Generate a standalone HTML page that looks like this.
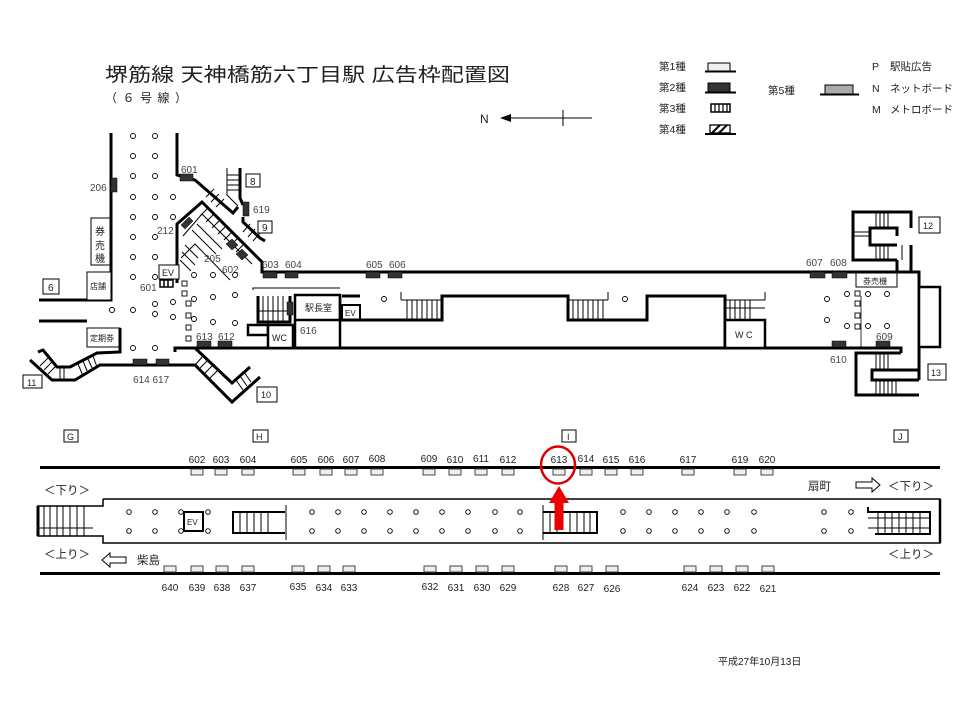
<!DOCTYPE html>
<html><head><meta charset="utf-8"><style>
html,body{margin:0;padding:0;background:#fff}
svg{display:block}
text{font-family:"Liberation Sans","Noto Sans CJK JP",sans-serif;fill:#222}
.n{font-size:10px;fill:#444}
.w{fill:none;stroke:#000;stroke-width:3}
.t{fill:none;stroke:#000;stroke-width:1}
.c{fill:#fff;stroke:#000;stroke-width:0.9}
.d{fill:#333;stroke:#000;stroke-width:0.5}
.l{fill:#eee;stroke:#333;stroke-width:0.9}
.b{fill:#fff;stroke:#000;stroke-width:1}
</style></head><body>
<svg width="960" height="720" viewBox="0 0 960 720" xmlns="http://www.w3.org/2000/svg">
<rect width="960" height="720" fill="#fff"/>
<!-- title -->
<text x="105" y="81" font-size="19" textLength="405" lengthAdjust="spacingAndGlyphs">堺筋線  天神橋筋六丁目駅  広告枠配置図</text>
<text x="105" y="102" font-size="12" textLength="82" lengthAdjust="spacing">（ ６ 号 線 ）</text>
<!-- north arrow -->
<text x="480" y="123" font-size="12">N</text>
<line x1="504" y1="118" x2="592" y2="118" stroke="#000" stroke-width="1"/>
<polygon points="500,118 511,114 511,122" fill="#000"/>
<line x1="563" y1="110" x2="563" y2="126" stroke="#000" stroke-width="1"/>
<!-- legend -->
<g font-size="10.5">
<text x="659" y="70">第1種</text><text x="659" y="91">第2種</text><text x="659" y="112">第3種</text><text x="659" y="133">第4種</text>
<text x="768" y="94">第5種</text>
<text x="872" y="70">P</text><text x="890" y="70">駅貼広告</text>
<text x="872" y="92">N</text><text x="890" y="92">ネットボード</text>
<text x="872" y="113">M</text><text x="890" y="113">メトロボード</text>
</g>
<rect x="708" y="63" width="22" height="8" fill="#eee" stroke="#000"/><line x1="705" y1="71.5" x2="736" y2="71.5" stroke="#000" stroke-width="2"/>
<rect x="708" y="83" width="22" height="9" fill="#333" stroke="#000"/><line x1="705" y1="92.5" x2="736" y2="92.5" stroke="#000" stroke-width="2"/>
<rect x="711" y="104" width="19" height="8" fill="#fff" stroke="#000" stroke-width="1.5"/>
<g stroke="#000" stroke-width="1.2"><line x1="715" y1="104" x2="715" y2="112"/><line x1="719" y1="104" x2="719" y2="112"/><line x1="723" y1="104" x2="723" y2="112"/><line x1="727" y1="104" x2="727" y2="112"/></g>
<rect x="710" y="125" width="20" height="8" fill="#fff" stroke="#000" stroke-width="1.3"/>
<g stroke="#000" stroke-width="2"><line x1="712" y1="133" x2="720" y2="125"/><line x1="719" y1="133" x2="727" y2="125"/></g>
<line x1="705" y1="134" x2="736" y2="134" stroke="#000" stroke-width="2"/>
<rect x="825" y="85" width="28" height="9" fill="#aaa" stroke="#000"/><line x1="820" y1="94.5" x2="859" y2="94.5" stroke="#000" stroke-width="2"/>

<!-- ===== upper plan ===== -->
<!-- left concourse walls -->
<polyline class="w" points="111,133 111,300 39,300"/>
<polyline class="w" points="39,321 87,321"/>
<rect class="b" x="87" y="272" width="24" height="28" stroke-width="2"/><text x="90" y="289" font-size="8">店舗</text>
<rect class="b" x="91" y="218" width="19" height="47" stroke-width="2.5"/>
<text x="95" y="235" font-size="10">券</text><text x="95" y="249" font-size="10">売</text><text x="95" y="262" font-size="10">機</text>
<rect class="d" x="111" y="178" width="6" height="14"/><text class="n" x="90" y="191">206</text>
<rect class="b" x="43" y="279" width="16" height="15"/><text x="48" y="291" font-size="10">6</text>
<rect class="b" x="87" y="328" width="33" height="19" stroke-width="2"/><text x="90" y="341" font-size="8">定期券</text>
<polyline class="w" points="120,328 120,352 97,353 70,367 57,367 43,350 38,352"/>
<polyline class="w" points="30,360 52,380 75,380 100,365 195,365 232,402 260,377"/>
<polyline class="w" points="175,352 175,348 195,348 232,383 250,367"/>
<g class="t"><line x1="48" y1="358" x2="40" y2="366"/><line x1="52" y1="362" x2="44" y2="370"/><line x1="56" y1="366" x2="48" y2="374"/>
<line x1="60" y1="367" x2="60" y2="380"/><line x1="64" y1="367" x2="64" y2="380"/>
<line x1="78" y1="364" x2="83" y2="376"/><line x1="83" y1="361" x2="88" y2="373"/><line x1="88" y1="359" x2="93" y2="370"/><line x1="93" y1="356" x2="97" y2="367"/>
<line x1="203" y1="356" x2="196" y2="364"/><line x1="208" y1="360" x2="200" y2="368"/><line x1="213" y1="365" x2="205" y2="373"/><line x1="218" y1="370" x2="210" y2="378"/>
<line x1="236" y1="380" x2="243" y2="390"/><line x1="240" y1="376" x2="247" y2="386"/><line x1="244" y1="372" x2="251" y2="382"/></g>
<rect class="b" x="23" y="375" width="19" height="13"/><text x="27" y="386" font-size="9">11</text>
<rect class="b" x="257" y="387" width="20" height="15"/><text x="261" y="398" font-size="9">10</text>
<rect class="d" x="133" y="359" width="14" height="6"/><rect class="d" x="156" y="359" width="13" height="6"/>
<text class="n" x="133" y="383">614 617</text>
<!-- right of concourse / stairs 8,9 -->
<polyline class="w" points="177,133 177,175 195,180 233,213 238,207"/>
<rect class="d" x="180" y="174" width="13" height="7"/><text class="n" x="181" y="173">601</text>
<polyline class="t" points="227,168 227,195 238,206"/>
<polyline class="w" points="240,168 240,198 243,205"/>
<g class="t"><line x1="227" y1="175" x2="240" y2="175"/><line x1="227" y1="180" x2="240" y2="180"/><line x1="227" y1="185" x2="240" y2="185"/><line x1="227" y1="190" x2="240" y2="190"/></g>
<rect class="b" x="246" y="174" width="14" height="13"/><text x="250" y="185" font-size="10">8</text>
<polyline class="w" points="243,217 243,222 260,238 265,241"/>
<rect class="d" x="243" y="202" width="6" height="14"/><text class="n" x="253" y="213">619</text>
<rect class="b" x="258" y="221" width="14" height="12"/><text x="262" y="231" font-size="10">9</text>
<!-- big diagonal stair block -->
<polyline class="w" points="177,283 177,224 202,202 257,257 262,262 262,272 918,272"/>
<polyline class="t" points="183,236 202,214 252,264"/>
<polyline class="t" points="181,258 195,244 230,280"/>
<g class="t">
<line x1="208" y1="208" x2="200" y2="216"/><line x1="214" y1="214" x2="206" y2="222"/><line x1="220" y1="220" x2="212" y2="228"/><line x1="226" y1="226" x2="218" y2="234"/><line x1="232" y1="232" x2="224" y2="240"/><line x1="238" y1="238" x2="230" y2="246"/><line x1="244" y1="244" x2="236" y2="252"/>
<line x1="214" y1="189" x2="206" y2="197"/><line x1="219" y1="194" x2="211" y2="202"/><line x1="224" y1="199" x2="216" y2="207"/>
<line x1="250" y1="224" x2="243" y2="232"/><line x1="255" y1="229" x2="248" y2="237"/><line x1="260" y1="233" x2="253" y2="241"/>
<line x1="185" y1="245" x2="198" y2="258"/><line x1="182" y1="252" x2="195" y2="265"/><line x1="180" y1="260" x2="191" y2="271"/>
<line x1="192" y1="230" x2="216" y2="254"/><line x1="197" y1="224" x2="222" y2="249"/>
</g>
<polygon class="d" points="181,225 189,217 193,221 185,229"/><text class="n" x="157" y="234">212</text>
<polygon class="d" points="226,244 232,239 238,245 232,250"/><polygon class="d" points="236,254 242,249 248,255 242,260"/>
<text class="n" x="204" y="262">205</text><text class="n" x="222" y="273">602</text>
<rect class="d" x="263" y="272" width="14" height="6"/><rect class="d" x="285" y="272" width="13" height="6"/>
<text class="n" x="262" y="268">603</text><text class="n" x="285" y="268">604</text>
<rect class="d" x="366" y="272" width="14" height="6"/><rect class="d" x="388" y="272" width="14" height="6"/>
<text class="n" x="366" y="268">605</text><text class="n" x="389" y="268">606</text>
<rect class="d" x="810" y="272" width="15" height="6"/><rect class="d" x="832" y="272" width="15" height="6"/>
<text class="n" x="806" y="266">607</text><text class="n" x="830" y="266">608</text>
<!-- EV in concourse -->
<rect class="b" x="159" y="265" width="20" height="14" stroke-width="2"/><text x="162" y="276" font-size="9">EV</text>
<rect x="160" y="280" width="13" height="7" fill="#fff" stroke="#000" stroke-width="1.5"/>
<g stroke="#000" stroke-width="1.5"><line x1="164" y1="280" x2="164" y2="287"/><line x1="168" y1="280" x2="168" y2="287"/></g>
<text class="n" x="140" y="291">601</text>
<!-- corridor bottom -->
<polyline class="w" points="175,352 175,348 901,348 901,353"/>
<rect class="d" x="197" y="341" width="14" height="6"/><rect class="d" x="218" y="341" width="14" height="6"/>
<text class="n" x="196" y="340">613</text><text class="n" x="218" y="340">612</text>
<!-- rooms left -->
<polyline class="t" points="253,290 253,288 340,288"/>
<polyline class="w" points="258,296 258,322 290,322 290,296"/>
<g class="t"><line x1="263" y1="296" x2="263" y2="322"/><line x1="268" y1="296" x2="268" y2="322"/><line x1="273" y1="296" x2="273" y2="322"/><line x1="278" y1="296" x2="278" y2="322"/><line x1="283" y1="296" x2="283" y2="322"/><line x1="258" y1="311" x2="290" y2="311"/></g>
<rect class="d" x="287" y="302" width="6" height="13"/>
<rect x="295" y="295" width="45" height="25" fill="#fff" stroke="#000" stroke-width="2.5"/><text x="305" y="311" font-size="9">駅長室</text>
<line x1="295" y1="320" x2="295" y2="348" stroke="#000" stroke-width="2.5"/>
<text class="n" x="300" y="334">616</text>
<line x1="340" y1="295" x2="340" y2="348" stroke="#000" stroke-width="2.5"/>
<rect x="248" y="325" width="20" height="10" fill="#fff" stroke="#000" stroke-width="2.5"/>
<rect x="268" y="325" width="25" height="23" fill="#fff" stroke="#000" stroke-width="2.5"/><text x="272" y="341" font-size="9">WC</text>
<rect x="342" y="305" width="18" height="15" fill="#fff" stroke="#000" stroke-width="2"/><text x="345" y="316" font-size="8">EV</text>
<!-- central inner block -->
<polyline class="w" points="342,296 360,296"/>
<polyline class="w" points="340,320 442,320 442,296 568,296 568,320 647,320 647,296 725,296 725,348"/>
<line x1="401" y1="292" x2="401" y2="300" stroke="#000"/><line x1="401" y1="300" x2="442" y2="300" stroke="#000"/>
<g class="t"><line x1="407" y1="300" x2="407" y2="320"/><line x1="412" y1="300" x2="412" y2="320"/><line x1="417" y1="300" x2="417" y2="320"/><line x1="422" y1="300" x2="422" y2="320"/><line x1="427" y1="300" x2="427" y2="320"/><line x1="432" y1="300" x2="432" y2="320"/><line x1="437" y1="300" x2="437" y2="320"/></g>
<line x1="568" y1="300" x2="608" y2="300" stroke="#000"/><line x1="608" y1="292" x2="608" y2="300" stroke="#000"/>
<g class="t"><line x1="573" y1="300" x2="573" y2="320"/><line x1="578" y1="300" x2="578" y2="320"/><line x1="583" y1="300" x2="583" y2="320"/><line x1="588" y1="300" x2="588" y2="320"/><line x1="593" y1="300" x2="593" y2="320"/><line x1="598" y1="300" x2="598" y2="320"/><line x1="603" y1="300" x2="603" y2="320"/></g>
<line x1="725" y1="300" x2="765" y2="300" stroke="#000"/><line x1="765" y1="292" x2="765" y2="300" stroke="#000"/>
<line x1="725" y1="308" x2="765" y2="308" stroke="#000"/>
<g class="t"><line x1="730" y1="300" x2="730" y2="320"/><line x1="735" y1="300" x2="735" y2="320"/><line x1="740" y1="300" x2="740" y2="320"/><line x1="745" y1="300" x2="745" y2="320"/><line x1="750" y1="300" x2="750" y2="320"/></g>
<rect x="725" y="320" width="40" height="28" fill="#fff" stroke="#000" stroke-width="2.5"/><text x="735" y="338" font-size="9">W C</text>
<!-- right stairs 12,13 -->
<polyline class="w" points="897,260 897,272"/>
<rect class="b" x="856" y="273" width="41" height="14" stroke-width="2"/><text x="863" y="284" font-size="8">券売機</text>
<polyline class="w" points="897,260 853,260 853,212 911,212 911,228"/>
<polyline class="w" points="897,245 870,245 870,228 897,228 897,236"/>
<polyline class="w" points="911,245 911,272 919,272 919,380"/>
<line x1="902" y1="245" x2="902" y2="260" stroke="#000"/>
<g class="t"><line x1="876" y1="213" x2="876" y2="228"/><line x1="880" y1="213" x2="880" y2="228"/><line x1="884" y1="213" x2="884" y2="228"/><line x1="888" y1="213" x2="888" y2="228"/>
<line x1="876" y1="245" x2="876" y2="260"/><line x1="880" y1="245" x2="880" y2="260"/><line x1="884" y1="245" x2="884" y2="260"/><line x1="888" y1="245" x2="888" y2="260"/>
<line x1="853" y1="232" x2="870" y2="232"/><line x1="853" y1="236" x2="870" y2="236"/></g>
<rect class="b" x="919" y="217" width="21" height="16"/><text x="923" y="229" font-size="9">12</text>
<rect x="919" y="287" width="21" height="60" fill="#fff" stroke="#000" stroke-width="2.5"/>
<line x1="861" y1="296" x2="861" y2="348" stroke="#000" stroke-width="0.8"/>
<rect class="d" x="832" y="341" width="14" height="6"/><rect class="d" x="876" y="341" width="14" height="6"/>
<text class="n" x="830" y="363">610</text><text class="n" x="876" y="340">609</text>
<polyline class="w" points="901,353 856,353 856,395 919,395"/>
<polyline class="w" points="919,380 872,380 872,370 919,370"/>
<g class="t"><line x1="876" y1="353" x2="876" y2="370"/><line x1="880" y1="353" x2="880" y2="370"/><line x1="884" y1="353" x2="884" y2="370"/><line x1="888" y1="353" x2="888" y2="370"/>
<line x1="876" y1="380" x2="876" y2="395"/><line x1="880" y1="380" x2="880" y2="395"/><line x1="884" y1="380" x2="884" y2="395"/><line x1="888" y1="380" x2="888" y2="395"/><line x1="892" y1="380" x2="892" y2="395"/><line x1="896" y1="380" x2="896" y2="395"/></g>
<rect class="b" x="928" y="364" width="18" height="16"/><text x="931" y="376" font-size="9">13</text>
<!-- circles upper -->
<g class="c">
<circle cx="133" cy="136" r="2.5"/><circle cx="155" cy="136" r="2.5"/>
<circle cx="133" cy="156" r="2.5"/><circle cx="155" cy="156" r="2.5"/>
<circle cx="133" cy="176" r="2.5"/><circle cx="155" cy="176" r="2.5"/>
<circle cx="133" cy="197" r="2.5"/><circle cx="155" cy="197" r="2.5"/><circle cx="173" cy="197" r="2.5"/>
<circle cx="133" cy="217" r="2.5"/><circle cx="155" cy="217" r="2.5"/><circle cx="173" cy="217" r="2.5"/>
<circle cx="133" cy="237" r="2.5"/><circle cx="155" cy="237" r="2.5"/>
<circle cx="133" cy="257" r="2.5"/><circle cx="155" cy="257" r="2.5"/>
<circle cx="133" cy="277" r="2.5"/><circle cx="155" cy="277" r="2.5"/>
<circle cx="112" cy="310" r="2.5"/><circle cx="133" cy="310" r="2.5"/>
<circle cx="155" cy="304" r="2.5"/><circle cx="155" cy="314" r="2.5"/>
<circle cx="133" cy="348" r="2.5"/><circle cx="155" cy="348" r="2.5"/>
<circle cx="173" cy="302" r="2.5"/><circle cx="173" cy="317" r="2.5"/>
<circle cx="194" cy="275" r="2.5"/><circle cx="213" cy="275" r="2.5"/><circle cx="235" cy="275" r="2.5"/>
<circle cx="194" cy="299" r="2.5"/><circle cx="213" cy="297" r="2.5"/><circle cx="235" cy="295" r="2.5"/>
<circle cx="194" cy="319" r="2.5"/><circle cx="213" cy="322" r="2.5"/><circle cx="235" cy="323" r="2.5"/>
<circle cx="384" cy="299" r="2.5"/><circle cx="625" cy="299" r="2.5"/>
<circle cx="827" cy="299" r="2.5"/><circle cx="847" cy="294" r="2.5"/><circle cx="868" cy="294" r="2.5"/><circle cx="887" cy="294" r="2.5"/>
<circle cx="827" cy="320" r="2.5"/><circle cx="847" cy="326" r="2.5"/><circle cx="868" cy="326" r="2.5"/><circle cx="887" cy="326" r="2.5"/>
<rect x="182" y="281" width="5" height="5"/><rect x="182" y="291" width="5" height="5"/><rect x="186" y="301" width="5" height="5"/><rect x="186" y="313" width="5" height="5"/><rect x="186" y="325" width="5" height="5"/><rect x="186" y="336" width="5" height="5"/>
<rect x="855" y="291" width="5" height="5"/><rect x="855" y="301" width="5" height="5"/><rect x="855" y="313" width="5" height="5"/><rect x="855" y="324" width="5" height="5"/>
</g>

<!-- ===== platform diagram ===== -->
<g font-size="9">
<rect class="b" x="64" y="430" width="14" height="12"/><text x="67" y="440">G</text>
<rect class="b" x="253" y="430" width="15" height="12"/><text x="256" y="440">H</text>
<rect class="b" x="562" y="430" width="14" height="12"/><text x="567" y="440">I</text>
<rect class="b" x="894" y="430" width="14" height="12"/><text x="898" y="440">J</text>
</g>
<line x1="40" y1="467.5" x2="940" y2="467.5" stroke="#000" stroke-width="3"/>
<line x1="40" y1="573.5" x2="940" y2="573.5" stroke="#000" stroke-width="3"/>
<g class="l">
<rect x="191" y="469" width="12" height="6"/><rect x="215" y="469" width="12" height="6"/><rect x="242" y="469" width="12" height="6"/>
<rect x="293" y="469" width="12" height="6"/><rect x="320" y="469" width="12" height="6"/><rect x="345" y="469" width="12" height="6"/><rect x="371" y="469" width="12" height="6"/>
<rect x="423" y="469" width="12" height="6"/><rect x="449" y="469" width="12" height="6"/><rect x="475" y="469" width="12" height="6"/><rect x="502" y="469" width="12" height="6"/>
<rect x="553" y="469" width="12" height="6"/><rect x="580" y="469" width="12" height="6"/><rect x="605" y="469" width="12" height="6"/><rect x="631" y="469" width="12" height="6"/>
<rect x="682" y="469" width="12" height="6"/><rect x="734" y="469" width="12" height="6"/><rect x="761" y="469" width="12" height="6"/>
<rect x="164" y="566" width="12" height="6"/><rect x="191" y="566" width="12" height="6"/><rect x="216" y="566" width="12" height="6"/><rect x="242" y="566" width="12" height="6"/>
<rect x="292" y="566" width="12" height="6"/><rect x="318" y="566" width="12" height="6"/><rect x="343" y="566" width="12" height="6"/>
<rect x="424" y="566" width="12" height="6"/><rect x="450" y="566" width="12" height="6"/><rect x="476" y="566" width="12" height="6"/><rect x="502" y="566" width="12" height="6"/>
<rect x="555" y="566" width="12" height="6"/><rect x="580" y="566" width="12" height="6"/><rect x="606" y="566" width="12" height="6"/>
<rect x="684" y="566" width="12" height="6"/><rect x="710" y="566" width="12" height="6"/><rect x="736" y="566" width="12" height="6"/><rect x="762" y="566" width="12" height="6"/>
</g>
<g class="n" text-anchor="middle">
<text x="197" y="463">602</text><text x="221" y="463">603</text><text x="248" y="463">604</text>
<text x="299" y="463">605</text><text x="326" y="463">606</text><text x="351" y="463">607</text><text x="377" y="462">608</text>
<text x="429" y="462">609</text><text x="455" y="463">610</text><text x="481" y="462">611</text><text x="508" y="463">612</text>
<text x="559" y="463">613</text><text x="586" y="462">614</text><text x="611" y="463">615</text><text x="637" y="463">616</text>
<text x="688" y="463">617</text><text x="740" y="463">619</text><text x="767" y="463">620</text>
<text x="170" y="591">640</text><text x="197" y="591">639</text><text x="222" y="591">638</text><text x="248" y="591">637</text>
<text x="298" y="590">635</text><text x="324" y="591">634</text><text x="349" y="591">633</text>
<text x="430" y="590">632</text><text x="456" y="591">631</text><text x="482" y="591">630</text><text x="508" y="591">629</text>
<text x="561" y="591">628</text><text x="586" y="591">627</text><text x="612" y="592">626</text>
<text x="690" y="591">624</text><text x="716" y="591">623</text><text x="742" y="591">622</text><text x="768" y="592">621</text>
</g>
<!-- platform -->
<polyline points="103,499 940,499 940,543 103,543 103,536 38,536 38,506 103,506 103,499" fill="none" stroke="#000" stroke-width="1.5"/>
<line x1="940" y1="499" x2="940" y2="543" stroke="#000" stroke-width="2.5"/>
<line x1="38" y1="506" x2="38" y2="536" stroke="#000" stroke-width="3"/>
<g class="t"><line x1="38" y1="528" x2="93" y2="528"/><line x1="44" y1="506" x2="44" y2="536"/><line x1="50" y1="506" x2="50" y2="536"/><line x1="57" y1="506" x2="57" y2="536"/><line x1="63" y1="506" x2="63" y2="536"/><line x1="70" y1="506" x2="70" y2="536"/><line x1="77" y1="506" x2="77" y2="536"/><line x1="84" y1="506" x2="84" y2="536"/></g>
<rect x="184" y="512" width="19" height="19" fill="#fff" stroke="#000" stroke-width="2"/><text x="187" y="525" font-size="8">EV</text>
<polyline points="285,512 233,512 233,533 285,533" fill="none" stroke="#000" stroke-width="2"/>
<line x1="286" y1="505" x2="286" y2="540" stroke="#000"/>
<g class="t"><line x1="240" y1="512" x2="240" y2="533"/><line x1="247" y1="512" x2="247" y2="533"/><line x1="254" y1="512" x2="254" y2="533"/><line x1="261" y1="512" x2="261" y2="533"/><line x1="268" y1="512" x2="268" y2="533"/></g>
<polyline points="543,512 597,512 597,533 543,533" fill="none" stroke="#000" stroke-width="2"/>
<line x1="543" y1="505" x2="543" y2="540" stroke="#000"/>
<g class="t"><line x1="550" y1="512" x2="550" y2="533"/><line x1="557" y1="512" x2="557" y2="533"/><line x1="570" y1="512" x2="570" y2="533"/><line x1="577" y1="512" x2="577" y2="533"/><line x1="584" y1="512" x2="584" y2="533"/><line x1="590" y1="512" x2="590" y2="533"/></g>
<polyline points="868,507 868,512 930,512 930,534 875,534" fill="none" stroke="#000" stroke-width="2"/>
<g class="t"><line x1="868" y1="518" x2="930" y2="518"/><line x1="868" y1="528" x2="930" y2="528"/><line x1="878" y1="512" x2="878" y2="534"/><line x1="885" y1="512" x2="885" y2="534"/><line x1="892" y1="512" x2="892" y2="534"/><line x1="899" y1="512" x2="899" y2="534"/><line x1="906" y1="512" x2="906" y2="534"/><line x1="913" y1="512" x2="913" y2="534"/><line x1="920" y1="512" x2="920" y2="534"/></g>
<g class="c">
<circle cx="129" cy="512" r="2.3"/><circle cx="155" cy="512" r="2.3"/><circle cx="181" cy="512" r="2.3"/><circle cx="208" cy="512" r="2.3"/>
<circle cx="129" cy="531" r="2.3"/><circle cx="155" cy="531" r="2.3"/><circle cx="181" cy="531" r="2.3"/><circle cx="208" cy="531" r="2.3"/>
<circle cx="312" cy="512" r="2.3"/><circle cx="338" cy="512" r="2.3"/><circle cx="364" cy="512" r="2.3"/><circle cx="390" cy="512" r="2.3"/><circle cx="416" cy="512" r="2.3"/><circle cx="442" cy="512" r="2.3"/><circle cx="468" cy="512" r="2.3"/><circle cx="495" cy="512" r="2.3"/><circle cx="520" cy="512" r="2.3"/>
<circle cx="312" cy="531" r="2.3"/><circle cx="338" cy="531" r="2.3"/><circle cx="364" cy="531" r="2.3"/><circle cx="390" cy="531" r="2.3"/><circle cx="416" cy="531" r="2.3"/><circle cx="442" cy="531" r="2.3"/><circle cx="468" cy="531" r="2.3"/><circle cx="495" cy="531" r="2.3"/><circle cx="520" cy="531" r="2.3"/>
<circle cx="623" cy="512" r="2.3"/><circle cx="649" cy="512" r="2.3"/><circle cx="675" cy="512" r="2.3"/><circle cx="701" cy="512" r="2.3"/><circle cx="727" cy="512" r="2.3"/><circle cx="754" cy="512" r="2.3"/>
<circle cx="623" cy="531" r="2.3"/><circle cx="649" cy="531" r="2.3"/><circle cx="675" cy="531" r="2.3"/><circle cx="701" cy="531" r="2.3"/><circle cx="727" cy="531" r="2.3"/><circle cx="754" cy="531" r="2.3"/>
<circle cx="824" cy="512" r="2.3"/><circle cx="851" cy="512" r="2.3"/><circle cx="824" cy="531" r="2.3"/><circle cx="851" cy="531" r="2.3"/>
</g>
<g font-size="11.5">
<text x="44" y="494">＜下り＞</text>
<text x="44" y="558">＜上り＞</text>
<text x="137" y="564">柴島</text>
<text x="808" y="490">扇町</text>
<text x="888" y="490">＜下り＞</text>
<text x="888" y="558">＜上り＞</text>
</g>
<polygon points="102,560 110,553 110,557 126,557 126,563 110,563 110,567" fill="#fff" stroke="#000"/>
<polygon points="856,482 872,482 872,478 880,485 872,492 872,488 856,488" fill="#fff" stroke="#000"/>
<!-- red highlight -->
<ellipse cx="558" cy="465" rx="17" ry="18.5" fill="none" stroke="#d00" stroke-width="2.5"/>
<rect x="554.5" y="502" width="9" height="28" fill="#e00"/>
<polygon points="549,503 569,503 559,486" fill="#e00"/>
<text x="718" y="665" font-size="10">平成27年10月13日</text>
</svg>
</body></html>
